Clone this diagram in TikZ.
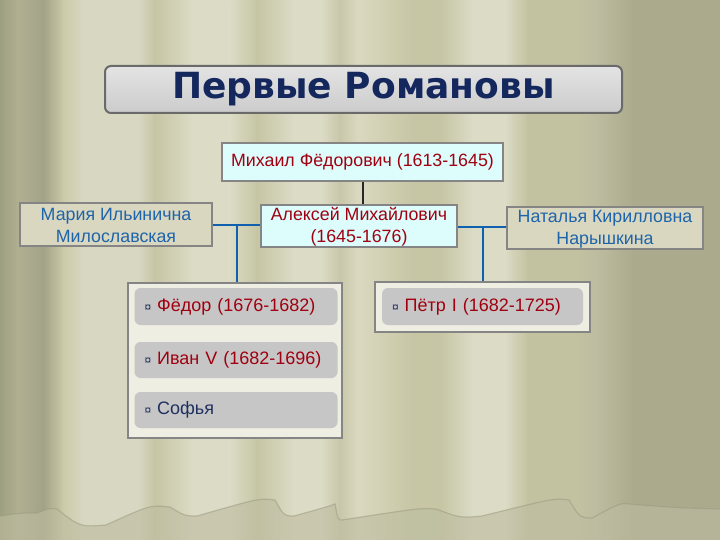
\documentclass[tikz,border=0pt]{standalone}
\usepackage{fontspec}
\setmainfont{Liberation Sans}
\newfontfamily\titlefont{DejaVu Sans}
\definecolor{bgA}{HTML}{9E9E80}
\definecolor{bgB}{HTML}{B0AF92}
\definecolor{bgC}{HTML}{A3A387}
\definecolor{bgD}{HTML}{CCCBA9}
\definecolor{bgE}{HTML}{D8D7C2}
\definecolor{bgF}{HTML}{C6C6A5}
\definecolor{bgG}{HTML}{DCDBC6}
\definecolor{bgH}{HTML}{C8C7A9}
\definecolor{bgI}{HTML}{DAD9C0}
\definecolor{bgJ}{HTML}{C3C2A0}
\definecolor{bgK}{HTML}{BDBCA0}
\definecolor{bgL}{HTML}{ABAA8D}
\definecolor{titlenavy}{HTML}{14285E}
\definecolor{darkred}{HTML}{A00010}
\definecolor{textblue}{HTML}{1E64AA}
\definecolor{linkblue}{HTML}{1060B0}
\definecolor{boxgray}{HTML}{858585}
\definecolor{cyanfill}{HTML}{DDFCFC}
\definecolor{tanfill}{HTML}{D9D7C0}
\definecolor{grpfill}{HTML}{EEEEE2}
\definecolor{itemfill}{HTML}{C6C6C6}
\definecolor{bulnavy}{HTML}{1F2F5F}
\newcommand{\bulmark}{{\color{bulnavy}\fontsize{12}{14}\selectfont ¤}\hspace{6pt}}
\begin{document}
\begin{tikzpicture}[x=1pt,y=-1pt,
  titlebox/.style={draw=boxgray!80!black, line width=2pt, rounded corners=6pt,
    top color=gray!22, bottom color=gray!40, minimum width=517pt, minimum height=47pt,
    font=\titlefont\bfseries\fontsize{36}{40}\selectfont, text=titlenavy, inner sep=0pt},
  cyanbox/.style={draw=boxgray, line width=1.5pt, fill=cyanfill, text=darkred,
    font=\fontsize{17.8}{22}\selectfont, align=center, inner sep=0pt},
  tanbox/.style={draw=boxgray, line width=1.5pt, fill=tanfill, text=textblue,
    font=\fontsize{17.8}{22}\selectfont, align=center, inner sep=0pt},
  grpbox/.style={draw=boxgray, line width=1.5pt, fill=grpfill, inner sep=0pt},
  itembox/.style={fill=itemfill, rounded corners=6pt, inner sep=0pt, inner xsep=10pt,
    font=\fontsize{18}{22}\selectfont, text=darkred, align=left, anchor=center},
  blueline/.style={draw=linkblue, line width=2pt},
  blackline/.style={draw=black!85, line width=2pt}
]
\useasboundingbox (0,0) rectangle (720,540);
% curtain background
\foreach \xa/\xb/\ca/\cb in {0/18/bgA/bgB, 18/44/bgB/bgC, 44/64/bgC/bgD, 64/83/bgD/bgE,
  83/138/bgE/bgE, 138/155/bgE/bgF, 155/193/bgF/bgG, 193/230/bgG/bgG, 230/257/bgG/bgF,
  257/294/bgF/bgG, 294/321/bgG/bgG, 321/340/bgG/bgH, 340/358/bgH/bgI, 358/413/bgI/bgF,
  413/441/bgF/bgF, 441/473/bgF/bgG, 473/505/bgG/bgG, 505/528/bgG/bgJ, 528/574/bgJ/bgJ,
  574/597/bgJ/bgK, 597/634/bgK/bgL, 634/720/bgL/bgL}
  {\shade[left color=\ca, right color=\cb] (\xa-0.3,0) rectangle (\xb+0.3,540);}
% hem / floor
\fill[bgK, opacity=0.6] (0,516) .. controls (20,513) .. (37,513) .. controls (50,508) .. (57,509)
  .. controls (80,527) .. (106,525) .. controls (150,505) .. (170,507) .. controls (185,516) .. (197,516)
  .. controls (260,498) .. (275,500) .. controls (284,516) .. (294,516) .. controls (330,506) .. (335,504)
  .. controls (338,520) .. (342,520) .. controls (420,508) .. (436,509) .. controls (460,518) .. (482,516)
  .. controls (555,498) .. (569,500) .. controls (580,518) .. (592,518) .. controls (620,503) .. (629,504)
  .. controls (680,508) .. (720,509) -- (720,540) -- (0,540) -- cycle;
\draw[bgL!90!black, line width=1.2pt, opacity=0.5] (0,516) .. controls (20,513) .. (37,513) .. controls (50,508) .. (57,509)
  .. controls (80,527) .. (106,525) .. controls (150,505) .. (170,507) .. controls (185,516) .. (197,516)
  .. controls (260,498) .. (275,500) .. controls (284,516) .. (294,516) .. controls (330,506) .. (335,504)
  .. controls (338,520) .. (342,520) .. controls (420,508) .. (436,509) .. controls (460,518) .. (482,516)
  .. controls (555,498) .. (569,500) .. controls (580,518) .. (592,518) .. controls (620,503) .. (629,504)
  .. controls (680,508) .. (720,509);
% title
\node[titlebox] (title) at (363.5,89.5) {Первые Романовы};
% people
\node[cyanbox, minimum width=281pt, minimum height=38pt] (mikhail) at (362.5,162) {Михаил Фёдорович (1613-1645)};
\node[tanbox, minimum width=192pt, minimum height=43pt] (maria) at (116,224.5) {\rule{0pt}{15pt}Мария Ильинична\\Милославская};
\node[cyanbox, minimum width=196pt, minimum height=42pt] (alexei) at (359,226) {\rule{0pt}{15pt}Алексей Михайлович\\(1645-1676)};
\node[tanbox, minimum width=196pt, minimum height=42pt] (natalya) at (605,228) {\rule{0pt}{15pt}Наталья Кирилловна\\Нарышкина};
% children groups
\node[grpbox, minimum width=214pt, minimum height=155pt] (fgrp) at (235,360.5) {};
\node[itembox, minimum width=203pt, minimum height=37pt, text width=183pt] (fedor) at (236,306.5) {\bulmark Фёдор (1676-1682)};
\node[itembox, minimum width=203pt, minimum height=36pt, text width=183pt] (ivan) at (236,360) {\bulmark Иван V (1682-1696)};
\node[itembox, minimum width=203pt, minimum height=36pt, text width=183pt, text=bulnavy] (sofya) at (236,410) {\bulmark Софья};
\node[grpbox, minimum width=215pt, minimum height=50pt] (pgrp) at (482.5,307) {};
\node[itembox, minimum width=201pt, minimum height=37pt, text width=181pt] (petr) at (482.5,306.5) {\bulmark Пётр I (1682-1725)};
% connectors
\draw[blackline] (mikhail.south) -- (mikhail.south |- alexei.north);
\coordinate (jL) at (237,225);
\coordinate (jR) at (482.5,227);
\draw[blueline] (maria.east |- jL) -- (alexei.west |- jL);
\draw[blueline] (jL) -- (jL |- fgrp.north);
\draw[blueline] (alexei.east |- jR) -- (natalya.west |- jR);
\draw[blueline] (jR) -- (pgrp.north);
\end{tikzpicture}
\end{document}
